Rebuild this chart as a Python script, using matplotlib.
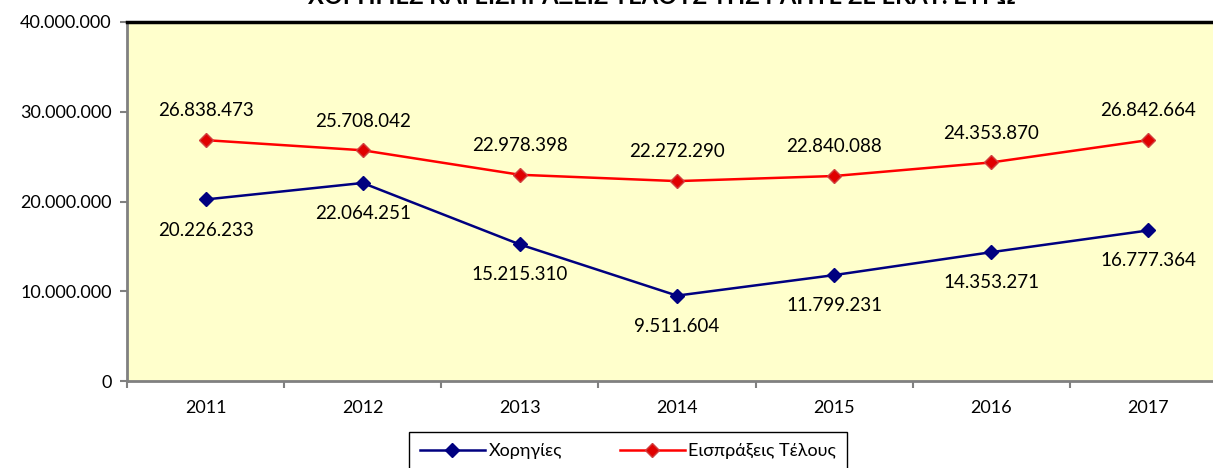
import matplotlib.pyplot as plt
from matplotlib.ticker import FuncFormatter

plt.rcParams['font.family'] = ['Lato', 'DejaVu Sans']

years = ['2011', '2012', '2013', '2014', '2015', '2016', '2017']
grants = [20226233, 22064251, 15215310, 9511604, 11799231, 14353271, 16777364]
fees = [26838473, 25708042, 22978398, 22272290, 22840088, 24353870, 26842664]


def dots(v, pos=None):
    return f"{int(v):,}".replace(",", ".")


fig = plt.figure(figsize=(12.13, 4.68), dpi=100)
ax = fig.add_axes([127 / 1213, 1 - 381 / 468, 1100 / 1213, 359 / 468])
ax.set_facecolor('#FFFFCC')

x = range(len(years))
ax.plot(x, grants, color='#000080', marker='D', markersize=7, lw=1.8, label='Χορηγίες')
ax.plot(x, fees, color='#FF0000', marker='D', markersize=7, lw=1.8,
        markerfacecolor='#E00000', markeredgecolor='#D04040', label='Εισπράξεις Τέλους')

for i in x:
    ax.annotate(dots(fees[i]), (i, fees[i]), xytext=(0, 21), textcoords='offset points',
                ha='center', va='center', fontsize=13.5)
    ax.annotate(dots(grants[i]), (i, grants[i]), xytext=(0, -22), textcoords='offset points',
                ha='center', va='center', fontsize=13.5)

ax.set_xlim(-0.5, 6.5)
ax.set_ylim(0, 40000000)
ax.set_yticks([0, 10000000, 20000000, 30000000, 40000000])
ax.yaxis.set_major_formatter(FuncFormatter(dots))
ax.set_xticks(x)
ax.set_xticklabels(years)
ax.set_xticks([i - 0.5 for i in range(8)], minor=True)
ax.tick_params(axis='x', which='major', length=0, labelsize=13, pad=14)
ax.tick_params(axis='x', which='minor', length=5, color='#808080', width=1.5)
ax.tick_params(axis='y', length=5, color='#808080', width=1.5, labelsize=13, pad=6)

ax.spines['top'].set_color('black')
ax.spines['top'].set_linewidth(2.5)
ax.spines['right'].set_visible(False)
for s in ['left', 'bottom']:
    ax.spines[s].set_color('#808080')
    ax.spines[s].set_linewidth(2)

# title sits mostly above the image edge, as in the original
fig.text(0.546, 1.008, 'ΧΟΡΗΓΙΕΣ ΚΑΙ ΕΙΣΠΡΑΞΕΙΣ ΤΕΛΟΥΣ ΤΗΣ ΡΑΠΤΕ ΣΕ ΕΚΑΤ. ΕΥΡΩ',
         ha='center', va='center', fontsize=17, fontweight='bold')

leg = fig.legend(loc='upper left', bbox_to_anchor=(409 / 1213, 1 - 432 / 468), ncol=2,
                 fontsize=13, fancybox=False, edgecolor='black', framealpha=1,
                 borderaxespad=0, borderpad=0.6, handlelength=3.6, handletextpad=0.2,
                 columnspacing=3.2)
leg.get_frame().set_linewidth(1)

plt.savefig('out.png', dpi=100)
